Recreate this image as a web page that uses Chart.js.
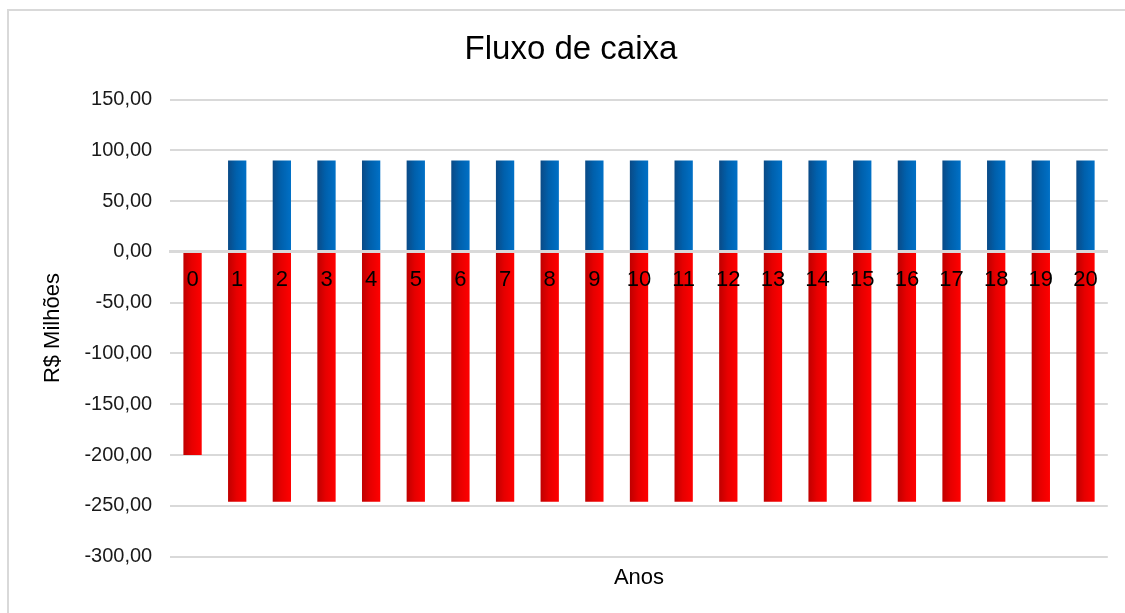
<!DOCTYPE html>
<html>
<head>
<meta charset="utf-8">
<script src="https://cdn.jsdelivr.net/npm/chart.js@4/dist/chart.umd.min.js"></script>
<style>
  html, body { margin: 0; padding: 0; background: #fff; overflow: hidden; }
  #box { position: absolute; left: 7px; top: 9px; width: 1124px; height: 608px; border: 2px solid #d9d9d9; }
</style>
</head>
<body>
<div id="box"><canvas id="myChart" width="1124" height="608"></canvas></div>
<script>
// dados do gráfico
var anos = ["0", "1", "2", "3", "4", "5", "6", "7", "8", "9", "10",
  "11", "12", "13", "14", "15", "16", "17", "18", "19", "20"];
var entradas = [null, 90, 90, 90, 90, 90, 90, 90, 90, 90, 90,
  90, 90, 90, 90, 90, 90, 90, 90, 90, 90];
var saidas = [-200, -246, -246, -246, -246, -246, -246, -246, -246, -246, -246,
  -246, -246, -246, -246, -246, -246, -246, -246, -246, -246];
var ticksY = [-300, -250, -200, -150, -100, -50, 0, 50, 100, 150];

var fonte = "'Liberation Sans', Arial, sans-serif";
var larguraBarra = 0.41;

function gradiente(cores) {
  return function (context) {
    var chart = context.chart;
    var x = chart.scales.x;
    if (!chart.chartArea || !x || context.type !== "data") return cores[1];
    var cx = x.getPixelForValue(context.dataIndex);
    var w = (x.width / anos.length) * larguraBarra;
    var g = chart.ctx.createLinearGradient(cx - w / 2, 0, cx + w / 2, 0);
    g.addColorStop(0, cores[0]);
    g.addColorStop(0.45, cores[1]);
    g.addColorStop(1, cores[2]);
    return g;
  };
}

var ctx = document.getElementById("myChart");
new Chart(ctx, {
  type: "bar",
  data: {
    labels: anos,
    datasets: [
      {
        label: "Entradas",
        data: entradas,
        backgroundColor: gradiente(["#0a4a86", "#0060ac", "#0070c6"]),
        barPercentage: larguraBarra,
        categoryPercentage: 1
      },
      {
        label: "Saídas",
        data: saidas,
        backgroundColor: gradiente(["#bf0000", "#e60000", "#ff0000"]),
        barPercentage: larguraBarra,
        categoryPercentage: 1
      }
    ]
  },
  options: {
    responsive: false,
    animation: false,
    layout: { padding: { left: 0, right: 0, top: 0, bottom: 28 } },
    plugins: {
      legend: { display: false },
      tooltip: { enabled: false },
      title: {
        display: true,
        text: "Fluxo de caixa",
        color: "#000",
        font: { family: fonte, size: 33, weight: "normal" },
        padding: { top: 19, bottom: 30 }
      }
    },
    scales: {
      x: {
        stacked: true,
        position: { y: 0 },
        grid: { display: false },
        border: { display: true, color: "#d9d9d9", width: 3, z: 1 },
        ticks: {
          z: 1,
          autoSkip: false,
          maxRotation: 0,
          padding: 7,
          color: "#000",
          font: { family: fonte, size: 22 }
        }
      },
      x2: {
        type: "category",
        labels: anos,
        position: "bottom",
        grid: { display: false },
        border: { display: false },
        ticks: { display: false },
        title: {
          display: true,
          text: "Anos",
          color: "#000",
          font: { family: fonte, size: 22 },
          padding: { top: 0, bottom: 0 }
        }
      },
      y: {
        stacked: true,
        min: -300,
        max: 150,
        afterBuildTicks: function (scale) {
          scale.ticks = ticksY.map(function (v) { return { value: v }; });
        },
        grid: { color: "#d9d9d9", lineWidth: 2, drawTicks: false },
        border: { display: false },
        ticks: {
          padding: 18,
          color: "#1a1a1a",
          font: { family: fonte, size: 20 },
          callback: function (v) { return v.toFixed(2).replace(".", ","); }
        },
        title: {
          display: true,
          text: "R$ Milhões",
          color: "#000",
          font: { family: fonte, size: 22 },
          padding: { top: 31, bottom: 0 }
        }
      },
      y2: {
        position: "right",
        grid: { display: false },
        border: { display: false },
        ticks: { display: false },
        title: {
          display: true,
          text: " ",
          font: { size: 1 },
          padding: { top: 0, bottom: 16 }
        }
      }
    }
  }
});
</script>
</body>
</html>
